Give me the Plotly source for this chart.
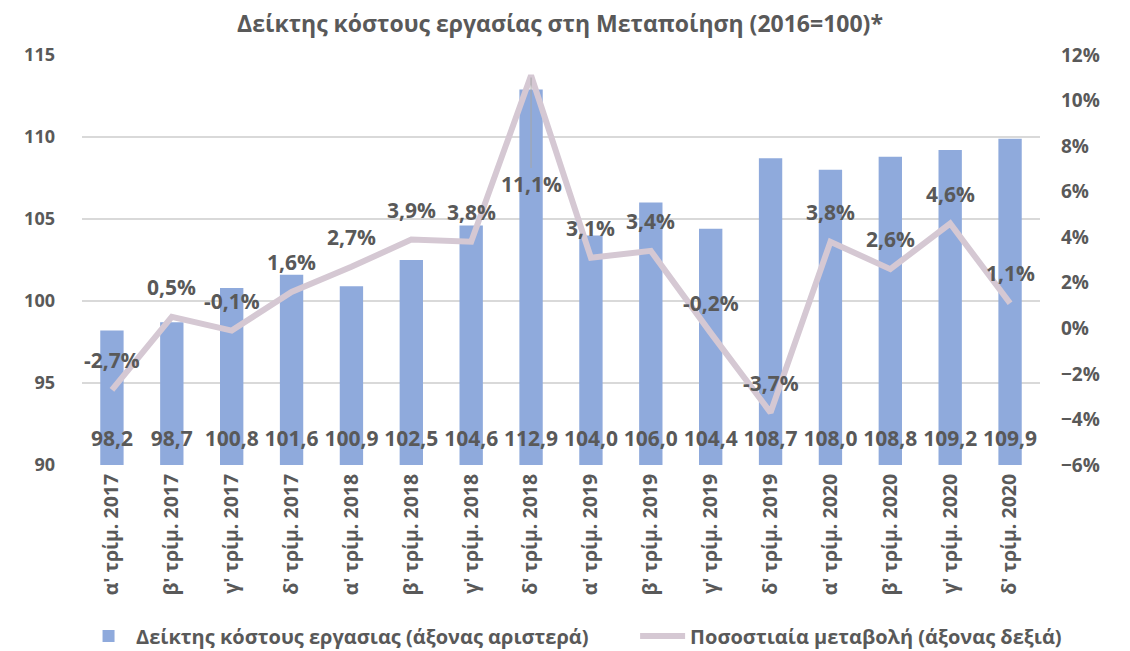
import plotly.graph_objects as go

# quarters shown on the x axis
quarters = [
    "α' τρίμ. 2017", "β' τρίμ. 2017", "γ' τρίμ. 2017", "δ' τρίμ. 2017",
    "α' τρίμ. 2018", "β' τρίμ. 2018", "γ' τρίμ. 2018", "δ' τρίμ. 2018",
    "α' τρίμ. 2019", "β' τρίμ. 2019", "γ' τρίμ. 2019", "δ' τρίμ. 2019",
    "α' τρίμ. 2020", "β' τρίμ. 2020", "γ' τρίμ. 2020", "δ' τρίμ. 2020",
]
# labour cost index (left axis)
index_values = [98.2, 98.7, 100.8, 101.6, 100.9, 102.5, 104.6, 112.9,
                104.0, 106.0, 104.4, 108.7, 108.0, 108.8, 109.2, 109.9]
# yearly % change (right axis)
pct_change = [-2.7, 0.5, -0.1, 1.6, 2.7, 3.9, 3.8, 11.1,
              3.1, 3.4, -0.2, -3.7, 3.8, 2.6, 4.6, 1.1]

FONT = "Open Sans"
GREY = "#595959"
BAR_COLOR = "#8FAADC"
LINE_COLOR = "#D5C8D3"

# the page body adds an 8px margin, so the figure is a bit smaller than the window
FIG_W, FIG_H = 1122, 643


def fmt(v, suffix=""):
    return f"{v:.1f}".replace(".", ",") + suffix


def build_figure() -> go.Figure:
    fig = go.Figure()

    fig.add_trace(
        go.Bar(
            x=quarters,
            y=index_values,
            # trailing no-break spaces push the second legend entry to the right
            name="Δείκτης κόστους εργασιας (άξονας αριστερά)" + "\u00a0" * 8,
            marker=dict(color=BAR_COLOR, line=dict(width=0)),
            width=0.39,
            hoverinfo="x+y",
        )
    )

    # value labels sitting near the foot of each bar
    fig.add_trace(
        go.Scatter(
            x=quarters,
            y=[91.5] * len(quarters),
            mode="text",
            text=[fmt(v) for v in index_values],
            textfont=dict(family=FONT, size=21, color=GREY, weight="bold"),
            showlegend=False,
            hoverinfo="skip",
        )
    )

    fig.add_trace(
        go.Scatter(
            x=quarters,
            y=pct_change,
            name="Ποσοστιαία μεταβολή (άξονας δεξιά)",
            mode="lines",
            line=dict(color=LINE_COLOR, width=6),
            yaxis="y2",
        )
    )

    # percent labels above the line, the peak one below with a leader line
    peak = max(pct_change)
    for q, v in zip(quarters, pct_change):
        if v == peak:
            fig.add_annotation(
                x=q, y=v, xref="x", yref="y2", text=fmt(v, "%"),
                showarrow=True, arrowhead=0, arrowwidth=1, arrowcolor="#A6A6A6",
                ax=0, ay=108, standoff=2,
                font=dict(family=FONT, size=21, color=GREY, weight="bold"),
            )
        else:
            fig.add_annotation(
                x=q, y=v, xref="x", yref="y2", text=fmt(v, "%"),
                showarrow=False, yshift=30,
                font=dict(family=FONT, size=21, color=GREY, weight="bold"),
            )

    fig.update_layout(
        width=FIG_W,
        height=FIG_H,
        margin=dict(l=74, r=90, t=47, b=186, autoexpand=False),
        paper_bgcolor="white",
        plot_bgcolor="white",
        title=dict(
            text="<b>Δείκτης κόστους εργασίας στη Μεταποίηση (2016=100)*</b>",
            x=0.492, xanchor="center", y=0.975, yanchor="middle",
            font=dict(family=FONT, size=23, color=GREY),
        ),
        xaxis=dict(
            range=[-0.5, len(quarters) - 0.5],
            tickangle=-90,
            tickfont=dict(family=FONT, size=19.5, color=GREY, weight="bold"),
            showline=False,
            ticks="",
            ticklabelstandoff=4,
        ),
        yaxis=dict(
            range=[90, 115],
            dtick=5,
            showgrid=True,
            gridcolor="#D9D9D9",
            gridwidth=1.5,
            zeroline=False,
            tickfont=dict(family=FONT, size=18, color=GREY, weight="bold"),
            ticklabelstandoff=26,
        ),
        yaxis2=dict(
            overlaying="y",
            side="right",
            range=[-6, 12],
            dtick=2,
            ticksuffix="%",
            showgrid=False,
            zeroline=False,
            tickfont=dict(family=FONT, size=19, color=GREY, weight="bold"),
            ticklabelstandoff=20,
        ),
        legend=dict(
            orientation="h",
            x=-0.001, xanchor="left",
            y=-0.417, yanchor="middle",
            itemwidth=45,
            font=dict(family=FONT, size=20, color=GREY, weight="bold"),
            traceorder="normal",
        ),
        separators=",.",
    )
    return fig


def main() -> None:
    build_figure().write_html("out.html")


if __name__ == "__main__":
    main()
